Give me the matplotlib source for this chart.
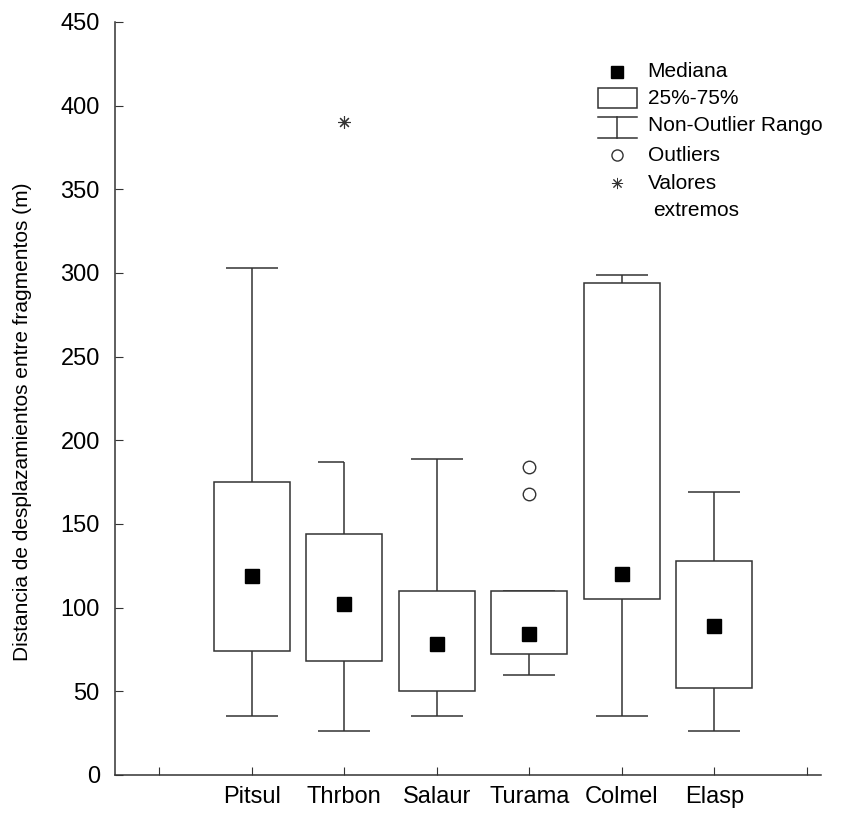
import matplotlib
matplotlib.use('Agg')
import matplotlib.pyplot as plt

plt.rcParams['font.family'] = ['Liberation Sans', 'DejaVu Sans']

categories = ['Pitsul', 'Thrbon', 'Salaur', 'Turama', 'Colmel', 'Elasp']
whisker_low = [35, 26, 35, 60, 35, 26]
q1 = [74, 68, 50, 72, 105, 52]
median = [119, 102, 78, 84, 120, 89]
q3 = [175, 144, 110, 110, 294, 128]
whisker_high = [303, 187, 189, 110, 299, 169]
outliers = {'Turama': [184, 168]}
extremes = {'Thrbon': [390]}

LC = '0.2'
LW = 1.1
BOX_W = 0.82
CAP_W = 0.56

fig = plt.figure(figsize=(8.49, 8.14), dpi=100)
ax = fig.add_axes([0.1355, 0.048, 0.831, 0.925])

for i, cat in enumerate(categories):
    x = i + 1
    # whiskers
    ax.vlines(x, whisker_low[i], q1[i], color=LC, lw=LW)
    ax.vlines(x, q3[i], whisker_high[i], color=LC, lw=LW)
    ax.hlines(whisker_low[i], x - CAP_W / 2, x + CAP_W / 2, color=LC, lw=LW)
    if cat == 'Thrbon':
        ax.hlines(whisker_high[i], x - CAP_W / 2, x, color=LC, lw=LW)
    else:
        ax.hlines(whisker_high[i], x - CAP_W / 2, x + CAP_W / 2, color=LC, lw=LW)
    # box
    ax.add_patch(plt.Rectangle((x - BOX_W / 2, q1[i]), BOX_W, q3[i] - q1[i],
                               facecolor='white', edgecolor=LC, lw=LW, zorder=2))
    ax.plot(x, median[i], 's', color='black', ms=10, zorder=3)
    if cat in outliers:
        ax.plot([x] * len(outliers[cat]), outliers[cat], 'o', mfc='white',
                mec=LC, ms=9, mew=1, zorder=3)
    if cat in extremes:
        ax.plot([x] * len(extremes[cat]), extremes[cat], marker=(8, 2, 0),
                ls='none', color=LC, ms=9, mew=0.8, zorder=3)

ax.set_xlim(-0.48, 7.15)
ax.set_ylim(0, 450)
ax.set_xticks(range(0, 8))
ax.set_xticklabels([''] + categories + [''])
ax.set_yticks(range(0, 451, 50))
ax.tick_params(axis='both', direction='in', length=6, color=LC, labelsize=17)
ax.tick_params(axis='x', pad=8)
ax.tick_params(axis='y', pad=11)
ax.spines['top'].set_visible(False)
ax.spines['right'].set_visible(False)
for s in ['left', 'bottom']:
    ax.spines[s].set_color(LC)
    ax.spines[s].set_linewidth(LW)
ax.set_ylabel('Distancia de desplazamientos entre fragmentos (m)', fontsize=15)
ax.yaxis.set_label_coords(-0.117, 0.469)

# legend drawn by hand
tr = ax.transAxes
lx, tx = 0.712, 0.755
ys = [0.934, 0.899, 0.862, 0.823, 0.786, 0.749]
ax.plot(lx, ys[0], 's', color='black', ms=8.5, transform=tr, clip_on=False)
ax.add_patch(plt.Rectangle((0.685, ys[1] - 0.0135), 0.055, 0.027, transform=tr,
                           facecolor='white', edgecolor=LC, lw=LW, clip_on=False))
ax.plot([0.685, 0.740], [0.874, 0.874], color=LC, lw=LW, transform=tr)
ax.plot([lx, lx], [0.874, 0.846], color=LC, lw=LW, transform=tr)
ax.plot([0.685, 0.740], [0.846, 0.846], color=LC, lw=LW, transform=tr)
ax.plot(lx, ys[3], 'o', mfc='white', mec=LC, ms=8, mew=1, transform=tr)
ax.plot(lx, ys[4], marker=(8, 2, 0), color=LC, ms=8, mew=0.7, transform=tr)
labels = ['Mediana', '25%-75%', 'Non-Outlier Rango', 'Outliers', 'Valores']
for y, t in zip(ys, labels):
    ax.text(tx, y, t, transform=tr, fontsize=15, va='center', ha='left')
ax.text(tx + 0.008, ys[5], 'extremos', transform=tr, fontsize=15, va='center', ha='left')

fig.savefig('out.png', dpi=100)
